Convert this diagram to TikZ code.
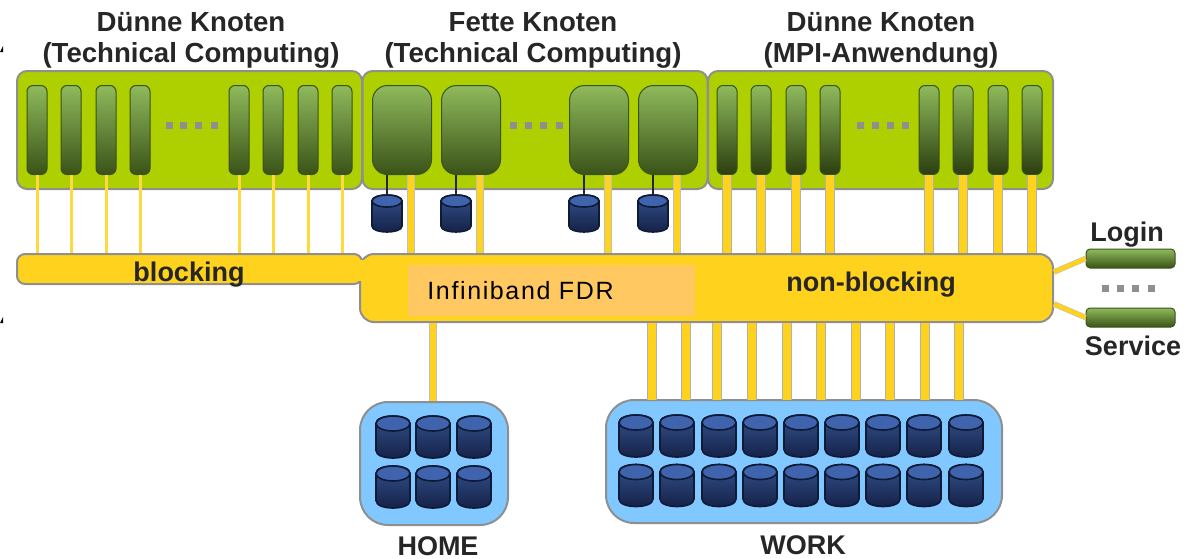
\documentclass[tikz,border=0pt]{standalone}
\usepackage{fontspec}
\setmainfont{Liberation Sans}
\newfontfamily\spacedfont[LetterSpace=6.5]{Liberation Sans}
\usepackage{tikz}
\usetikzlibrary{shapes,positioning,calc}
\definecolor{panelgreen}{HTML}{AED000}
\definecolor{busyellow}{HTML}{FFD21E}
\definecolor{edgegray}{HTML}{8F8F8F}
\definecolor{storeblue}{HTML}{80C8FF}
\definecolor{fdrorange}{HTML}{FFC860}
\definecolor{lightnode}{HTML}{8FBA5C}
\definecolor{darknode}{HTML}{3A5318}
\definecolor{blacknode}{HTML}{2B3E10}
\definecolor{drivetop}{HTML}{3F63AD}
\definecolor{driveup}{HTML}{33548F}
\definecolor{drivelow}{HTML}{141F45}
\definecolor{driveedge}{HTML}{0E1A36}

\begin{document}
\begin{tikzpicture}[
    x=0.5pt, y=-0.5pt,
    panel/.style={rectangle, draw=edgegray, line width=1pt, fill=panelgreen, rounded corners=5pt, minimum width=172.5pt, minimum height=59pt, inner sep=0pt},
    busbox/.style={rectangle, draw=edgegray, line width=1pt, fill=busyellow, inner sep=0pt},
    storebox/.style={rectangle, draw=edgegray, line width=1pt, fill=storeblue, rounded corners=14pt, inner sep=0pt},
    thinnode/.style={rectangle, draw=darknode, line width=0.5pt, top color=lightnode, bottom color=darknode, rounded corners=3pt, minimum width=10pt, minimum height=44.5pt, inner sep=0pt},
    fatnode/.style={thinnode, rounded corners=7.5pt, minimum width=29.5pt},
    barnode/.style={rectangle, draw=darknode, line width=0.5pt, top color=lightnode, bottom color=darknode, rounded corners=2pt, minimum width=44.5pt, minimum height=9.5pt, inner sep=0pt},
    pics/disk/.style n args={3}{code={
        \draw[draw=driveedge, line width=0.8pt, top color=driveup, bottom color=drivelow]
            (-#1,-#2+#3) -- (-#1,#2-#3) .. controls (-#1,#2+#3/3) and (#1,#2+#3/3) .. (#1,#2-#3)
            -- (#1,-#2+#3) .. controls (#1,-#2-#3/3) and (-#1,-#2-#3/3) .. cycle;
        \draw[draw=driveedge, line width=0.8pt, fill=drivetop] (0,-#2+#3) ellipse (#1 and #3);
        \coordinate (-top) at (0,-#2);
    }},
    pics/bigdrive/.style={disk={17}{21}{7.5}},
    pics/smalldrive/.style={disk={15}{18.5}{6}},
    thinlink/.style={line width=1.5pt, draw=busyellow!85!white},
    midlink/.style={draw=edgegray!55!white, line width=0.4pt, double=busyellow, double distance=3pt},
    fatlink/.style={draw=edgegray!70!white, line width=0.6pt, double=busyellow, double distance=3.6pt},
    sidelink/.style={draw=edgegray!55!white, line width=0.3pt, double=busyellow, double distance=2.2pt},
    dotmark/.style={rectangle, fill=edgegray, minimum size=3.5pt, inner sep=0pt},
    boldlabel/.style={font=\fontsize{13.5}{15.5}\selectfont\bfseries, text=black!85, inner sep=0pt},
    title/.style={boldlabel, font=\fontsize{13.8}{15.5}\selectfont\bfseries, align=center}
]
    \useasboundingbox (0,0) rectangle (1192,558);

    \node[title] (title1) at (191,40) {Dünne Knoten\\(Technical Computing)};
    \node[title] (title2) at (533,40) {Fette Knoten\\(Technical Computing)};
    \node[title] (title3) at (881,40) {Dünne Knoten\\(MPI-Anwendung)};

    \node[panel] (panel1) at (189.5,130) {};
    \node[panel] (panel2) at (535,130) {};
    \node[panel] (panel3) at (880.5,130) {};

    \node[busbox, rounded corners=7pt, minimum width=346.5pt, minimum height=34pt] (fabric) at (706.5,288) {};
    \node[busbox, rounded corners=4pt, minimum width=172.5pt, minimum height=15pt] (blocking) at (189.5,269) {};
    \node[rectangle, fill=busyellow, minimum width=5pt, minimum height=10.5pt, inner sep=0pt] (joint) at (362,270) {};
    \node[rectangle, fill=fdrorange, minimum width=143.5pt, minimum height=25.5pt, inner sep=0pt] (fdr) at (551.5,290.5) {};

    \foreach \x [count=\i] in {37,71,106,140,239,273,308,342} {
        \node[thinnode] (left\i) at (\x,130) {};
        \draw[thinlink] (left\i.south) -- (left\i.south |- blocking.north);
    }
    \foreach \x [count=\i] in {402,471,599,668} {
        \node[fatnode] (fat\i) at (\x,130) {};
    }
    \foreach \x [count=\i] in {411,480,608,677} {
        \coordinate (fatout\i) at (\x,175);
        \draw[midlink] (fatout\i) -- (fatout\i |- fabric.north);
    }
    \foreach \x [count=\i] in {387,456,584,653} {
        \pic (local\i) at (\x,213.5) {smalldrive};
        \draw[line width=1.3pt, draw=black!85] (local\i-top |- fat\i.south) -- (local\i-top);
    }
    \foreach \x [count=\i] in {727,761,796,830,929,963,998,1032} {
        \node[thinnode, bottom color=blacknode] (right\i) at (\x,130) {};
        \draw[fatlink] (right\i.south) -- (right\i.south |- fabric.north);
    }

    \foreach \x [count=\i] in {169,183,198,214} \node[dotmark] (dotsa\i) at (\x,125) {};
    \foreach \x [count=\i] in {513,528,543,559} \node[dotmark] (dotsb\i) at (\x,125) {};
    \foreach \x [count=\i] in {860,875,890,905} \node[dotmark] (dotsc\i) at (\x,125) {};
    \foreach \x [count=\i] in {1105,1120,1135,1151} \node[dotmark] (dotsd\i) at (\x,288) {};

    \node[boldlabel] (blockinglabel) at (189,275) {blocking};
    \node[boldlabel] (nonblocking) at (871,285) {non-blocking};
    \node[inner sep=0pt, anchor=west, font=\fontsize{12.5}{15}\spacedfont] (fdrlabel) at (427,291) {Infiniband FDR};

    \node[barnode] (login) at (1130.5,258.5) {};
    \node[barnode] (service) at (1130.5,317.5) {};
    \node[boldlabel] (loginlabel) at (1127,235) {Login};
    \node[boldlabel] (servicelabel) at (1133,346) {Service};
    \draw[sidelink] (fabric.east |- 0,272) -- (login.west);
    \draw[sidelink] (fabric.east |- 0,304) -- (service.west);

    \node[storebox, minimum width=74pt, minimum height=61.5pt] (home) at (434,463.5) {};
    \node[storebox, minimum width=198pt, minimum height=61.5pt] (work) at (804,461.5) {};
    \node[boldlabel] (homelabel) at (438,546) {HOME};
    \node[boldlabel] (worklabel) at (803,545) {WORK};

    \draw[midlink] (home.north -| 433,0) -- (fabric.south -| 433,0);
    \foreach \x [count=\i] in {652,686,717,752,787,821,856,890,925,959} {
        \coordinate (workin\i) at (\x,400);
        \draw[fatlink] (workin\i) -- (workin\i |- fabric.south);
    }

    \foreach \x [count=\i] in {393,433,474} {
        \pic (homea\i) at (\x,437) {bigdrive};
        \pic (homeb\i) at (\x,487) {bigdrive};
    }
    \foreach \x [count=\i] in {636,677,719,760,801,842,883,924,966} {
        \pic (worka\i) at (\x,436) {bigdrive};
        \pic (workb\i) at (\x,485.5) {bigdrive};
    }

    \fill[black] (0,52) -- (3,46) -- (3,52) -- cycle;
    \fill[black] (0,323) -- (3,317) -- (3,323) -- cycle;
\end{tikzpicture}
\end{document}
